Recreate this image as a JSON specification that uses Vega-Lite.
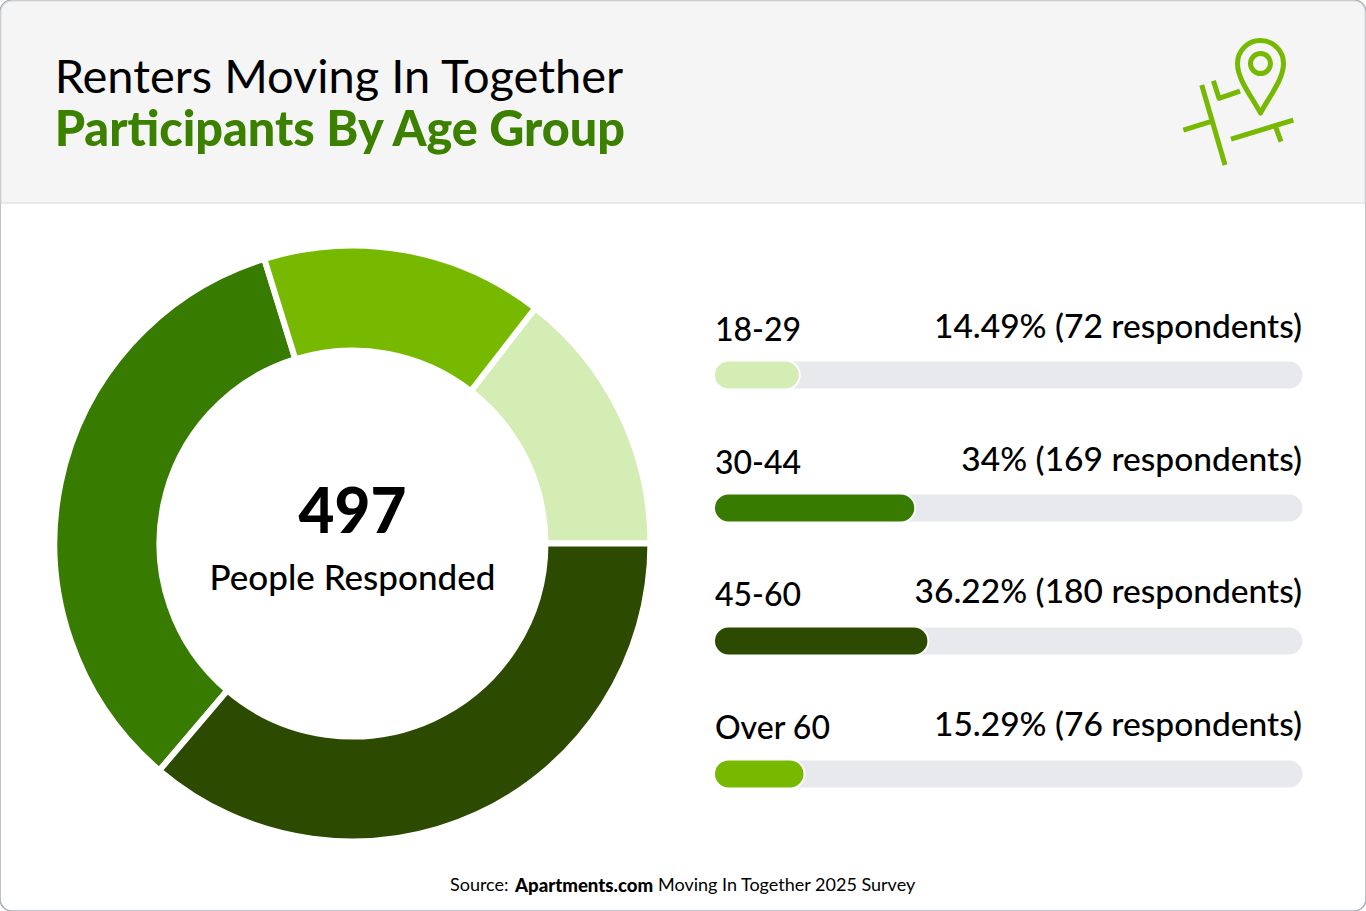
{
"$schema":"https://vega.github.io/schema/vega-lite/v6.json",
"width":1366,"height":911,"padding":0,
"autosize":{"type":"fit","contains":"padding"},
"background":"#ffffff",
"view":{"stroke":"#a9b0b8","strokeWidth":1.5,"cornerRadius":12,"fill":"#ffffff"},
"config":{"text":{"font":"Lato"}},
"data":{"values":[
{"age":"18-29","pct":14.49,"respondents":72,"label":"14.49% (72 respondents)"},
{"age":"30-44","pct":34,"respondents":169,"label":"34% (169 respondents)"},
{"age":"45-60","pct":36.22,"respondents":180,"label":"36.22% (180 respondents)"},
{"age":"Over 60","pct":15.29,"respondents":76,"label":"15.29% (76 respondents)"}
]},
"resolve":{"scale":{"x":"independent","y":"independent","color":"independent","theta":"independent"}},
"layer":[
{"data":{"values":[{"panel":"header"}]},
 "mark":{"type":"rect","fill":"#f5f5f5","stroke":"#d9d9d9","strokeWidth":1,"cornerRadiusTopLeft":11,"cornerRadiusTopRight":11},
 "encoding":{
  "x":{"datum":0,"scale":{"domain":[0,100],"range":[1,1365]},"axis":null},
  "x2":{"datum":100},
  "y":{"datum":0,"scale":{"domain":[0,100],"range":[1,911]},"axis":null},
  "y2":{"datum":22.2}}},
{"data":{"values":[{"line":"Renters Moving In Together"}]},
 "mark":{"type":"text","align":"left","baseline":"middle","fontSize":47,"fontWeight":400,"color":"#000000"},
 "encoding":{"text":{"field":"line"},
  "x":{"datum":4.0,"scale":{"domain":[0,100],"range":[0,1366]},"axis":null},
  "y":{"datum":8.7,"scale":{"domain":[0,100],"range":[0,911]},"axis":null}}},
{"data":{"values":[{"line":"Participants By Age Group"}]},
 "mark":{"type":"text","align":"left","baseline":"middle","fontSize":48.5,"fontWeight":900,"color":"#3c8000"},
 "encoding":{"text":{"field":"line"},
  "x":{"datum":4.0,"scale":{"domain":[0,100],"range":[0,1366]},"axis":null},
  "y":{"datum":14.35,"scale":{"domain":[0,100],"range":[0,911]},"axis":null}}},
{"data":{"values":[{"icon":"map pin"}]},
 "mark":{"type":"point","filled":false,"opacity":1,"color":"#76b900","strokeWidth":5,"size":16900,"strokeJoin":"round",
  "shape":"M-0.558,-0.262L-0.2,0.969M-0.841,0.431L-0.42,0.303M-0.379,-0.328L-0.292,-0.057L0.031,-0.169M-0.108,0.569L0.851,0.277M0.57,0.36L0.662,0.61M0.346,0.169C0.2,-0.1,-0.008,-0.35,-0.008,-0.592C-0.008,-0.79,0.15,-0.946,0.346,-0.946C0.542,-0.946,0.7,-0.79,0.7,-0.592C0.7,-0.35,0.49,-0.1,0.346,0.169ZM0.192,-0.592C0.192,-0.677,0.261,-0.746,0.346,-0.746C0.431,-0.746,0.5,-0.677,0.5,-0.592C0.5,-0.507,0.431,-0.438,0.346,-0.438C0.261,-0.438,0.192,-0.507,0.192,-0.592Z"},
 "encoding":{
  "x":{"datum":90.63,"scale":{"domain":[0,100],"range":[0,1366]},"axis":null},
  "y":{"datum":11.2,"scale":{"domain":[0,100],"range":[0,911]},"axis":null}}},
{"mark":{"type":"arc","outerRadius":298,"innerRadius":193,"stroke":"#ffffff","strokeWidth":6},
 "encoding":{
  "theta":{"field":"pct","type":"quantitative","stack":true,"scale":{"range":[1.5708,7.854]}},
  "order":{"field":"pct","sort":"descending"},
  "color":{"field":"age","type":"nominal","legend":null,"scale":{"domain":["18-29","30-44","45-60","Over 60"],"range":["#d3edb4","#377b00","#2c4a00","#76b900"]}},
  "x":{"datum":25.8,"scale":{"domain":[0,100],"range":[0,1366]},"axis":null},
  "y":{"datum":59.66,"scale":{"domain":[0,100],"range":[0,911]},"axis":null}}},
{"data":{"values":[{"line":"497"}]},
 "mark":{"type":"text","align":"center","baseline":"middle","fontSize":62,"fontWeight":900,"color":"#000000"},
 "encoding":{"text":{"field":"line"},
  "x":{"datum":25.8,"scale":{"domain":[0,100],"range":[0,1366]},"axis":null},
  "y":{"datum":56.4,"scale":{"domain":[0,100],"range":[0,911]},"axis":null}}},
{"data":{"values":[{"line":"People Responded"}]},
 "mark":{"type":"text","align":"center","baseline":"middle","fontSize":35,"fontWeight":500,"color":"#000000"},
 "encoding":{"text":{"field":"line"},
  "x":{"datum":25.8,"scale":{"domain":[0,100],"range":[0,1366]},"axis":null},
  "y":{"datum":63.6,"scale":{"domain":[0,100],"range":[0,911]},"axis":null}}},
{"mark":{"type":"bar","size":27,"cornerRadius":13.5,"color":"#e8e9ed"},
 "encoding":{
  "x":{"datum":100,"scale":{"domain":[0,100],"range":[715,1302.5]},"axis":null},
  "y":{"field":"age","type":"nominal","axis":null,"scale":{"type":"point","padding":0,"domain":["18-29","30-44","45-60","Over 60"],"range":[375,774]}}}},
{"mark":{"type":"bar","size":29,"cornerRadius":14.5,"stroke":"#ffffff","strokeWidth":2},
 "encoding":{
  "x":{"field":"pct","type":"quantitative","stack":null,"scale":{"domain":[0,100],"range":[714,1306]},"axis":null},
  "y":{"field":"age","type":"nominal","axis":null,"scale":{"type":"point","padding":0,"domain":["18-29","30-44","45-60","Over 60"],"range":[375,774]}},
  "color":{"field":"age","type":"nominal","legend":null,"scale":{"domain":["18-29","30-44","45-60","Over 60"],"range":["#d3edb4","#377b00","#2c4a00","#76b900"]}}}},
{"mark":{"type":"text","align":"left","baseline":"middle","fontSize":32,"fontWeight":500,"color":"#000000"},
 "encoding":{"text":{"field":"age"},
  "x":{"datum":0,"scale":{"domain":[0,100],"range":[715,1302]},"axis":null},
  "y":{"field":"age","type":"nominal","axis":null,"scale":{"type":"point","padding":0,"domain":["18-29","30-44","45-60","Over 60"],"range":[331,729]}}}},
{"mark":{"type":"text","align":"right","baseline":"middle","fontSize":33.5,"fontWeight":500,"color":"#000000"},
 "encoding":{"text":{"field":"label"},
  "x":{"datum":100,"scale":{"domain":[0,100],"range":[715,1302]},"axis":null},
  "y":{"field":"age","type":"nominal","axis":null,"scale":{"type":"point","padding":0,"domain":["18-29","30-44","45-60","Over 60"],"range":[328,726]}}}},
{"data":{"values":[{"line":"Source:"}]},
 "mark":{"type":"text","align":"left","baseline":"middle","fontSize":18,"fontWeight":400,"color":"#000000"},
 "encoding":{"text":{"field":"line"},
  "x":{"datum":32.94,"scale":{"domain":[0,100],"range":[0,1366]},"axis":null},
  "y":{"datum":97.25,"scale":{"domain":[0,100],"range":[0,911]},"axis":null}}},
{"data":{"values":[{"line":"Apartments.com"}]},
 "mark":{"type":"text","align":"left","baseline":"middle","fontSize":18.6,"fontWeight":900,"color":"#000000"},
 "encoding":{"text":{"field":"line"},
  "x":{"datum":37.7,"scale":{"domain":[0,100],"range":[0,1366]},"axis":null},
  "y":{"datum":97.25,"scale":{"domain":[0,100],"range":[0,911]},"axis":null}}},
{"data":{"values":[{"line":"Moving In Together 2025 Survey"}]},
 "mark":{"type":"text","align":"left","baseline":"middle","fontSize":18,"fontWeight":400,"color":"#000000"},
 "encoding":{"text":{"field":"line"},
  "x":{"datum":48.17,"scale":{"domain":[0,100],"range":[0,1366]},"axis":null},
  "y":{"datum":97.25,"scale":{"domain":[0,100],"range":[0,911]},"axis":null}}}
]
}
